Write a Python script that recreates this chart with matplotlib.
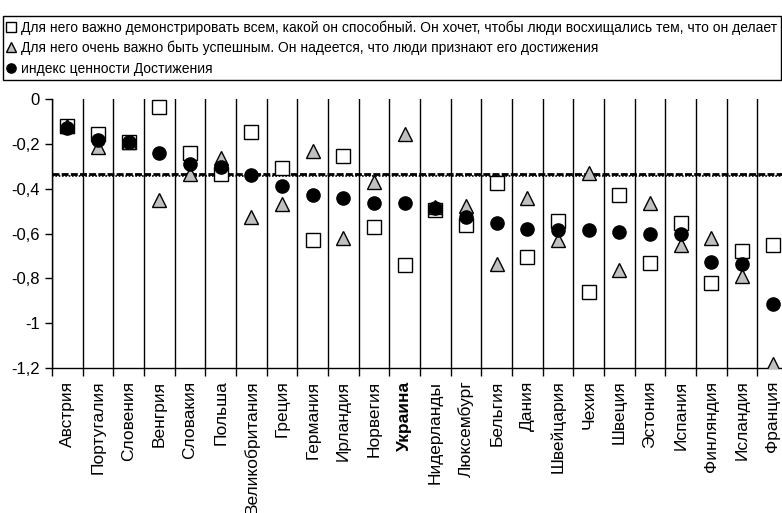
import matplotlib.pyplot as plt
from matplotlib.ticker import FixedLocator

countries = ["Австрия", "Португалия", "Словения", "Венгрия", "Словакия", "Польша",
             "Великобритания", "Греция", "Германия", "Ирландия", "Норвегия", "Украина",
             "Нидерланды", "Люксембург", "Бельгия", "Дания", "Швейцария", "Чехия",
             "Швеция", "Эстония", "Испания", "Финляндия", "Исландия", "Франция"]

# демонстрировать всем, какой он способный
show_off = [-0.12, -0.155, -0.19, -0.035, -0.24, -0.335, -0.145, -0.31, -0.63, -0.253,
            -0.57, -0.74, -0.495, -0.562, -0.374, -0.704, -0.543, -0.86, -0.43, -0.733,
            -0.555, -0.82, -0.68, -0.652]
# быть успешным
success = [-0.12, -0.212, -0.19, -0.45, -0.335, -0.265, -0.525, -0.47, -0.23, -0.62,
           -0.37, -0.158, -0.48, -0.478, -0.737, -0.443, -0.63, -0.332, -0.763, -0.466,
           -0.652, -0.62, -0.79, -1.18]
# индекс ценности Достижения
achievement = [-0.13, -0.183, -0.19, -0.24, -0.29, -0.305, -0.338, -0.39, -0.43, -0.44,
               -0.466, -0.466, -0.485, -0.525, -0.555, -0.582, -0.585, -0.585, -0.592,
               -0.603, -0.603, -0.726, -0.737, -0.915]
mean_level = -0.336

yticks = [0, -0.2, -0.4, -0.6, -0.8, -1, -1.2]
ytick_labels = ["0", "-0,2", "-0,4", "-0,6", "-0,8", "-1", "-1,2"]

plt.rcParams['font.family'] = ['Liberation Sans', 'DejaVu Sans']

fig = plt.figure(figsize=(7.82, 5.13), dpi=100)
ax = fig.add_axes([52 / 782, 1 - 368 / 513, 736 / 782, 269 / 513])

x = list(range(len(countries)))
ax.plot(x, show_off, ls="none", marker="s", ms=9.5, mfc="white", mec="black",
        mew=1, zorder=3, label="Для него важно демонстрировать всем, какой он способный. "
        "Он хочет, чтобы люди восхищались тем, что он делает")
ax.plot(x, success, ls="none", marker="^", ms=10, mfc="#c0c0c0", mec="black",
        mew=1, zorder=4, label="Для него очень важно быть успешным. "
        "Он надеется, что люди признают его достижения")
ax.plot(x, achievement, ls="none", marker="o", ms=9.5, mfc="black", mec="black",
        zorder=5, label="индекс ценности Достижения")

# средний уровень
ax.axhline(mean_level, color="black", lw=2, ls=(0, (2.5, 0.8)), zorder=2)
ax.axhline(mean_level - 0.006, color="black", lw=1.2, ls=(0, (1, 1)), zorder=2)

ax.set_xlim(-0.5, len(countries) - 0.5)
ax.set_ylim(-1.2, 0)
ax.set_yticks(yticks)
ax.set_yticklabels(ytick_labels, fontsize=12)
ax.tick_params(axis="y", direction="out", length=5, width=1, pad=4)

ax.set_xticks(x)
ax.set_xticklabels(countries, rotation=90, fontsize=12.5, va="top")
ax.xaxis.set_minor_locator(FixedLocator([i + 0.5 for i in range(-1, len(countries))]))
ax.tick_params(axis="x", which="major", length=0, pad=9)
ax.tick_params(axis="x", which="minor", direction="out", length=6, width=1)
ax.xaxis.grid(True, which="minor", color="black", lw=1)
for lbl in ax.get_xticklabels():
    if lbl.get_text() == "Украина":
        lbl.set_fontweight("bold")

for side in ["top", "right"]:
    ax.spines[side].set_visible(False)
ax.spines["left"].set_linewidth(1)
ax.spines["bottom"].set_linewidth(1)

leg = fig.legend(loc="upper left", bbox_to_anchor=(3 / 782, 1 - 16 / 513),
                 frameon=True, fancybox=False, edgecolor="black", framealpha=1,
                 prop={"size": 10},
                 handlelength=0.6, handletextpad=0.4, borderpad=0.3, labelspacing=0.45,
                 markerscale=0.7, borderaxespad=0)
leg.get_frame().set_linewidth(1)

fig.savefig("out.png", dpi=100)
